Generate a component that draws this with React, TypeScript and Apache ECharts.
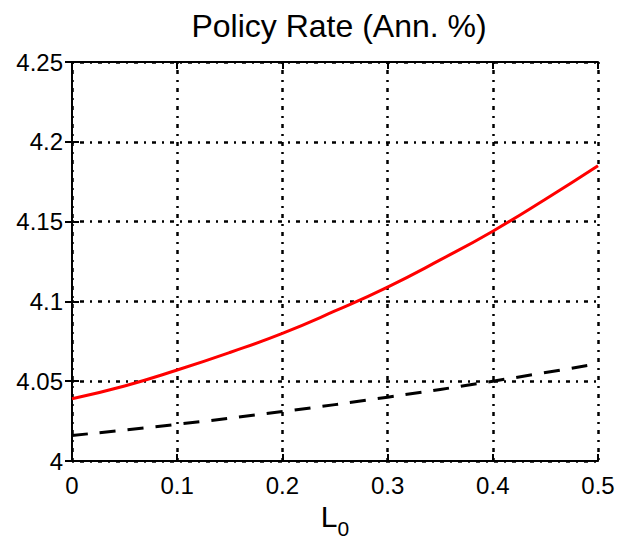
import React, { useEffect, useRef } from "react";
import * as echarts from "echarts";

const titleText = "Policy Rate (Ann. %)";
const xValues = [0, 0.05, 0.1, 0.15, 0.2, 0.25, 0.3, 0.35, 0.4, 0.45, 0.5];
const redSeries = [4.039, 4.047, 4.057, 4.068, 4.08, 4.094, 4.109, 4.126, 4.144, 4.164, 4.185];
const dashXValues = [0, 0.1, 0.2, 0.3, 0.4, 0.5];
const dashSeries = [4.016, 4.023, 4.031, 4.04, 4.05, 4.061];
const xTicks = [0, 0.1, 0.2, 0.3, 0.4, 0.5];
const yTicks = [4, 4.05, 4.1, 4.15, 4.2, 4.25];

export default function App() {
  const ref = useRef<HTMLDivElement>(null);
  useEffect(() => {
    if (!ref.current) return;
    const chart = echarts.init(ref.current, null, { renderer: "svg" });
    const font = "'Liberation Sans', Arial, Helvetica, sans-serif";
    const gridLine = {
      show: true,
      lineStyle: { color: "#000", width: 2.5, type: [2, 6, 4, 6] as any },
    };
    const tick = { show: true, inside: true, length: 7, lineStyle: { color: "#000", width: 2 } };
    const axLine = { show: true, lineStyle: { color: "#000", width: 2 } };
    chart.setOption({
      animation: false,
      backgroundColor: "#fff",
      title: {
        text: titleText,
        left: 334,
        textAlign: "center",
        top: 5,
        textStyle: { fontFamily: font, fontSize: 32, fontWeight: "normal", color: "#000" },
      },
      grid: { left: 72, right: 19, top: 62, bottom: 85, containLabel: false, outerBoundsMode: "none" },
      xAxis: [
        {
          type: "value",
          min: 0,
          max: 0.5,
          interval: 0.1,
          axisLine: axLine,
          axisTick: tick,
          splitLine: gridLine,
          axisLabel: {
            fontFamily: font,
            fontSize: 24,
            color: "#000",
            margin: 12,
            formatter: (v: number) => xTicks.includes(Math.round(v * 10) / 10) ? String(Math.round(v * 10) / 10) : "",
          },
          name: "{a|L}{b|0}",
          nameLocation: "middle",
          nameGap: 31,
          nameTextStyle: {
            rich: {
              a: { fontFamily: font, fontSize: 30, color: "#000" },
              b: { fontFamily: font, fontSize: 21, color: "#000", padding: [24, 0, 0, 0] },
            },
          },
        },
        {
          type: "value",
          position: "top",
          min: 0,
          max: 0.5,
          interval: 0.1,
          axisLine: axLine,
          axisTick: tick,
          splitLine: { show: false },
          axisLabel: { show: false },
        },
      ],
      yAxis: [
        {
          type: "value",
          min: 4,
          max: 4.25,
          interval: 0.05,
          axisLine: axLine,
          axisTick: tick,
          splitLine: gridLine,
          axisLabel: {
            fontFamily: font,
            fontSize: 24,
            color: "#000",
            margin: 9,
            formatter: (v: number) => {
              const r = Math.round(v * 100) / 100;
              return yTicks.includes(r) ? String(r) : "";
            },
          },
        },
        {
          type: "value",
          position: "right",
          min: 4,
          max: 4.25,
          interval: 0.05,
          axisLine: axLine,
          axisTick: tick,
          splitLine: { show: false },
          axisLabel: { show: false },
        },
      ],
      series: [
        {
          type: "line",
          data: xValues.map((x, i) => [x, redSeries[i]]),
          smooth: true,
          showSymbol: false,
          lineStyle: { color: "#ff0000", width: 3 },
        },
        {
          type: "line",
          data: dashXValues.map((x, i) => [x, dashSeries[i]]),
          smooth: true,
          showSymbol: false,
          lineStyle: { color: "#000", width: 3, type: [16, 12] as any },
        },
      ],
    });
    return () => chart.dispose();
  }, []);
  return (
    <div
      ref={ref}
      style={{ position: "fixed", left: 0, top: 0, width: 617, height: 546, background: "#fff" }}
    />
  );
}
